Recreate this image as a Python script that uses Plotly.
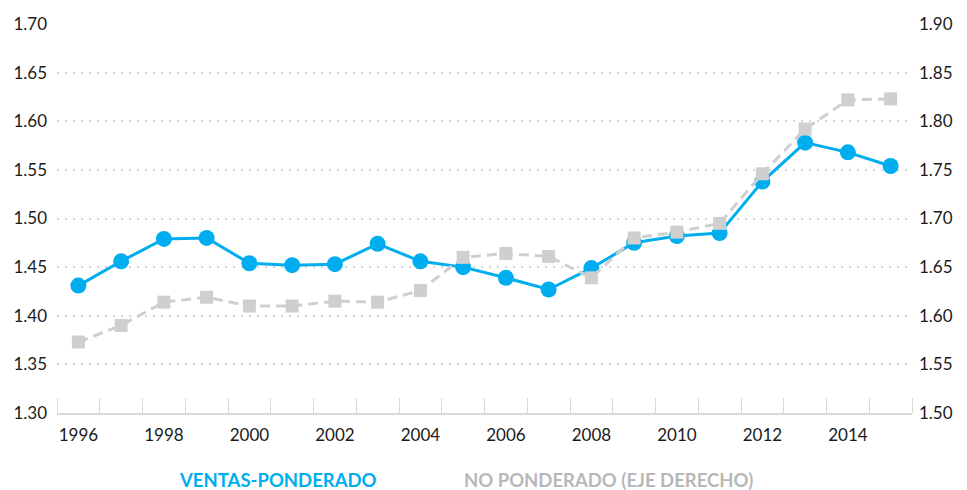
import plotly.graph_objects as go
from plotly.subplots import make_subplots

years = list(range(1996, 2016))
ventas_ponderado = [1.431, 1.456, 1.479, 1.480, 1.454, 1.452, 1.453, 1.474, 1.456, 1.450,
                    1.439, 1.427, 1.449, 1.475, 1.482, 1.485, 1.538, 1.578, 1.568, 1.554]
no_ponderado = [1.573, 1.590, 1.614, 1.619, 1.610, 1.610, 1.615, 1.614, 1.626, 1.660,
                1.664, 1.661, 1.639, 1.680, 1.686, 1.695, 1.746, 1.792, 1.822, 1.823]
left_ticks = [1.30, 1.35, 1.40, 1.45, 1.50, 1.55, 1.60, 1.65, 1.70]
right_ticks = [1.50, 1.55, 1.60, 1.65, 1.70, 1.75, 1.80, 1.85, 1.90]
x_ticks = list(range(1996, 2015, 2))
legend_labels = ["VENTAS-PONDERADO", "NO PONDERADO (EJE DERECHO)"]

BLUE = "#00AEEF"
GRAY = "#CFCFCF"
FONT = "Lato, sans-serif"

# page body has an 8px default margin: size the figure to fit inside the window
FW, FH = 959, 482
L, T, B = 49, 16, 77
R = FW - L - 855
W, H = FW - L - R, FH - T - B

fig = make_subplots(specs=[[{"secondary_y": True}]])
fig.add_trace(go.Scatter(x=years, y=ventas_ponderado, mode="lines+markers",
                         line=dict(color=BLUE, width=3),
                         marker=dict(symbol="circle", size=16, color=BLUE),
                         name=legend_labels[0], showlegend=False),
              secondary_y=False)
fig.add_trace(go.Scatter(x=years, y=no_ponderado, mode="lines+markers",
                         line=dict(color=GRAY, width=3, dash="10px,6px"),
                         marker=dict(symbol="square", size=13, color=GRAY),
                         name=legend_labels[1], showlegend=False),
              secondary_y=True)

fig.update_layout(
    width=FW, height=FH,
    margin=dict(l=L, r=R, t=T, b=B, autoexpand=False),
    plot_bgcolor="white", paper_bgcolor="white",
    font=dict(family=FONT, size=17, color="#1a1a1a"),
)
fig.update_xaxes(
    domain=[0, 1], automargin=False,
    range=[1995.5, 2015.5], tickmode="array", tickvals=x_ticks,
    ticktext=[str(v) for v in x_ticks], ticks="", showgrid=False, zeroline=False,
    showline=True, linecolor="#D9D9D9", linewidth=2, ticklabelstandoff=6,
    minor=dict(tickmode="linear", tick0=1995.5, dtick=1, ticks="inside",
               ticklen=15, tickcolor="#D9D9D9", tickwidth=1, showgrid=False),
)
fig.update_yaxes(
    automargin=False,
    range=[1.30, 1.70], tickmode="array", tickvals=left_ticks,
    ticktext=[f"{v:.2f}" for v in left_ticks], ticks="",
    showgrid=True, gridcolor="#D6D6D6", gridwidth=2, griddash="2px,6px",
    zeroline=False, showline=False, ticklabelstandoff=9,
    secondary_y=False,
)
fig.update_yaxes(
    automargin=False,
    range=[1.50, 1.90], tickmode="array", tickvals=right_ticks,
    ticktext=[f"{v:.2f}" for v in right_ticks], ticks="",
    showgrid=False, zeroline=False, showline=False, ticklabelstandoff=6,
    secondary_y=True,
)

# legend texts placed by figure-pixel position, converted to paper coordinates
fig.add_annotation(text=f"<b>{legend_labels[0]}</b>", x=(270 - L) / W, y=(FH - B - 472) / H,
                   xref="paper", yref="paper", xanchor="center", yanchor="middle",
                   showarrow=False, font=dict(color=BLUE, size=18.5))
fig.add_annotation(text=f"<b>{legend_labels[1]}</b>", x=(600 - L) / W, y=(FH - B - 472) / H,
                   xref="paper", yref="paper", xanchor="center", yanchor="middle",
                   showarrow=False, font=dict(color="#B8B8B8", size=18.5))

fig.write_html("out.html")
